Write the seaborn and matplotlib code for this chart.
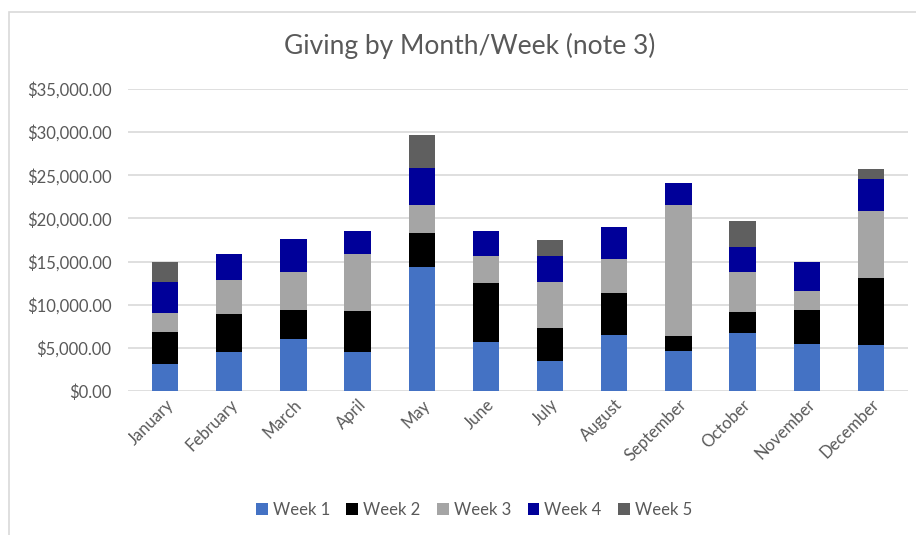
import matplotlib
matplotlib.use('Agg')
import matplotlib.pyplot as plt
from matplotlib.patches import Rectangle
from matplotlib.ticker import FuncFormatter
import seaborn as sns
import pandas as pd

months = ['January', 'February', 'March', 'April', 'May', 'June', 'July',
          'August', 'September', 'October', 'November', 'December']
weeks = ['Week 1', 'Week 2', 'Week 3', 'Week 4', 'Week 5']

week1 = [3100, 4520, 6030, 4520, 14390, 5680, 3440, 6500, 4640, 6730, 5450, 5340]
week2 = [3780, 4450, 3410, 4720, 3940, 6810, 3910, 4830, 1740, 2470, 3910, 7730]
week3 = [2200, 3870, 4330, 6650, 3250, 3170, 5330, 3940, 15200, 4570, 2280, 7810]
week4 = [3520, 3050, 3860, 2670, 4290, 2900, 2980, 3680, 2470, 2970, 3290, 3680]
week5 = [2330, 0, 0, 0, 3750, 0, 1860, 0, 0, 2980, 0, 1160]

colors = ['#4472C4', '#000000', '#A5A5A5', '#000099', '#5F5F5F']
text_col = '#595959'

sns.set_theme(style='white')
plt.rcParams['font.family'] = ['Lato', 'DejaVu Sans']

df = pd.DataFrame({'Month': months, 'Week 1': week1, 'Week 2': week2,
                   'Week 3': week3, 'Week 4': week4, 'Week 5': week5})

fig = plt.figure(figsize=(9.16, 5.35), dpi=100)
ax = fig.add_axes([128 / 916, 1 - 391 / 535, (908 - 128) / 916, (391 - 89) / 535])

# stacked bars, one barplot call per week
bottom = pd.Series([0] * len(months), dtype=float)
for week, col in zip(weeks, colors):
    sns.barplot(data=df, x='Month', y=week, bottom=bottom.values, color=col,
                width=0.41, errorbar=None, saturation=1, label=week, ax=ax,
                edgecolor='none')
    bottom = bottom + df[week]

ax.set_ylim(0, 35000)
ax.set_xlim(-0.58, len(months) - 0.42)
ax.set_yticks(range(0, 35001, 5000))
ax.yaxis.set_major_formatter(FuncFormatter(lambda v, p: f'${v:,.2f}'))
ax.grid(axis='y', color='#D9D9D9', linewidth=1.2)
ax.set_axisbelow(True)
for s in ax.spines.values():
    s.set_visible(False)
ax.set_xlabel('')
ax.set_ylabel('')
ax.tick_params(axis='both', length=0, colors=text_col, labelsize=12)
ax.tick_params(axis='y', pad=12)
ax.tick_params(axis='x', pad=4)
plt.setp(ax.get_xticklabels(), rotation=45, ha='right', rotation_mode='anchor')

fig.text(470 / 916, 1 - 46 / 535, 'Giving by Month/Week (note 3)', ha='center',
         va='center', fontsize=19, color=text_col)

handles, labels = ax.get_legend_handles_labels()
if ax.legend_:
    ax.legend_.remove()
fig.legend(handles, labels, loc='center', bbox_to_anchor=(474 / 916, 1 - 510 / 535),
           ncol=5, frameon=False, fontsize=12, handlelength=0.7, handleheight=0.7,
           handletextpad=0.3, columnspacing=1.0, labelcolor=text_col)

fig.patches.append(Rectangle((9 / 916, -0.01), 1.0, 1 - 12 / 535 + 0.01,
                             transform=fig.transFigure, fill=False,
                             edgecolor='#D9D9D9', linewidth=1.2))

fig.savefig('out.png', dpi=100)
